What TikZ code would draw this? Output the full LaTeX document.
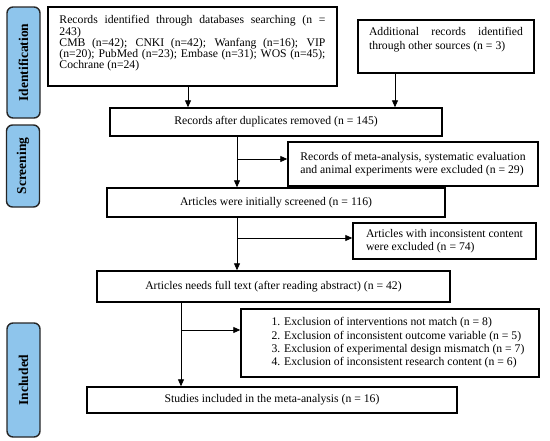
\documentclass[tikz,border=0pt]{standalone}
\usepackage{fontspec}
\setmainfont{Liberation Serif}
\usetikzlibrary{arrows.meta}
\definecolor{labfill}{HTML}{8EC5EC}
\tikzset{
  box/.style={draw=black, line width=1.4pt, inner sep=0pt, font=\fontsize{11.7}{13.6}\selectfont},
  lab/.style={draw=black!85, line width=1.4pt, fill=labfill, rounded corners=6pt, minimum width=33pt, inner sep=0pt},
  labtext/.style={rotate=90, font=\fontsize{13.5}{15}\selectfont\bfseries},
  arr/.style={line width=0.8pt, -{Triangle[length=7pt,width=6pt]}},
  ln/.style={line width=0.8pt}
}
\begin{document}
\begin{tikzpicture}[x=1pt,y=-1pt]
\useasboundingbox (0,0) rectangle (550,440);
% stage labels
\node[lab, minimum height=111pt] (lid) at (23.5,62.5) {};
\node[labtext] (tid) at (lid.center) {Identification};
\node[lab, minimum height=82pt] (lsc) at (23,166) {};
\node[labtext] (tsc) at (lsc.center) {Screening};
\node[lab, minimum height=114pt] (lin) at (23.5,380) {};
\node[labtext] (tin) at (lin.center) {Included};
% boxes
\node[box, minimum width=289pt, minimum height=79pt] (b1) at (192.5,46.5) {};
\node[text width=266pt, align=justify, inner sep=0pt, font=\fontsize{11.7}{11.3}\selectfont] (t1) at (192.5,43.5)
 {Records identified through databases searching (n =\linebreak 243)\\
  CMB (n=42); CNKI (n=42); Wanfang (n=16); VIP\linebreak (n=20); PubMed (n=23); Embase (n=31); WOS (n=45);\linebreak Cochrane (n=24)};
\node[box, minimum width=176pt, minimum height=53pt] (b2) at (446,46.5) {};
\node[text width=154pt, align=justify, inner sep=0pt, font=\fontsize{11.7}{13.6}\selectfont] (t2) at (446,39.5)
 {Additional records identified\linebreak through other sources (n = 3)};
\node[box, minimum width=332pt, minimum height=28pt] (b3) at (276,122)
 {Records after duplicates removed (n = 145)};
\node[box, minimum width=250pt, minimum height=44pt, align=left] (b4) at (413,164)
 {Records of meta-analysis, systematic evaluation\\and animal experiments were excluded (n = 29)};
\node[box, minimum width=338pt, minimum height=29pt] (b5) at (276,202.5)
 {Articles were initially screened (n = 116)};
\node[box, minimum width=183pt, minimum height=36pt, align=left] (b6) at (444.5,241)
 {Articles with inconsistent content\\were excluded (n = 74)};
\node[box, minimum width=353pt, minimum height=31pt] (b7) at (273.5,286.5)
 {Articles needs full text (after reading abstract) (n = 42)};
\node[box, minimum width=298pt, minimum height=68pt] (b8) at (390,343) {};
\node[font=\fontsize{11.7}{13.3}\selectfont, align=left, inner sep=0pt] (t8) at (398,343)
 {1. Exclusion of interventions not match (n = 8)\\
  2. Exclusion of inconsistent outcome variable (n = 5)\\
  3. Exclusion of experimental design mismatch (n = 7)\\
  4. Exclusion of inconsistent research content (n = 6)};
\node[box, minimum width=370pt, minimum height=26pt] (b9) at (272,400)
 {Studies included in the meta-analysis (n = 16)};
% connector columns
\coordinate (xa) at (188,0);
\coordinate (xb) at (395,0);
\coordinate (xc) at (237,0);
\coordinate (xd) at (181,0);
\coordinate (j1) at (237,159);
\coordinate (j2) at (237,238);
\coordinate (j3) at (181,330);
\draw[arr] (b1.south -| xa) -- (b3.north -| xa);
\draw[arr] (b2.south -| xb) -- (b3.north -| xb);
\draw[arr] (b3.south -| xc) -- (b5.north -| xc);
\draw[arr] (j1) -- (j1 -| b4.west);
\draw[arr] (b5.south -| xc) -- (b7.north -| xc);
\draw[arr] (j2) -- (j2 -| b6.west);
\draw[arr] (b7.south -| xd) -- (b9.north -| xd);
\draw[arr] (j3) -- (j3 -| b8.west);
\end{tikzpicture}
\end{document}
